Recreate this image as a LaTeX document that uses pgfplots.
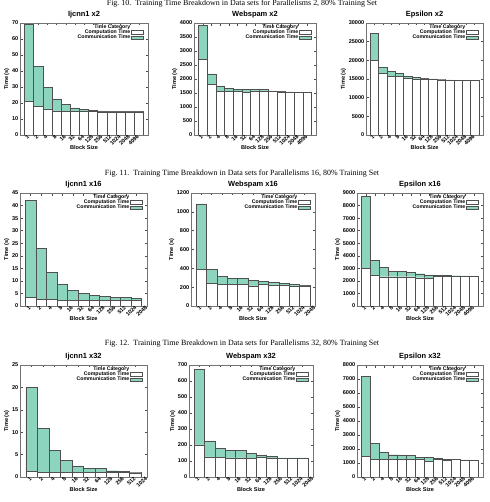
\documentclass[border=0pt]{standalone}
\usepackage{fontspec}
\setmainfont{Liberation Sans}
\newfontfamily\capfont{Liberation Serif}
\usepackage{pgfplots}
\usepackage{pgfplotstable}
\pgfplotsset{compat=1.18}

\definecolor{commcol}{RGB}{141,212,190}
\definecolor{edgecol}{RGB}{80,80,80}

\newcommand\tickfont{\bfseries\fontsize{5.6}{6}\selectfont}
\newcommand\labfont{\bfseries\fontsize{5.6}{6}\selectfont}
\newcommand\legfont{\bfseries\fontsize{5.2}{5.2}\selectfont}
\newcommand\titfont{\bfseries\fontsize{7.5}{8}\selectfont}

% block index, computation time, total time (computation + communication)
\pgfplotstableread{
i comp total
0 21.0 69.5
1 17.8 43.0
2 16.3 29.8
3 15.0 22.5
4 14.6 19.0
5 14.6 17.0
6 14.6 16.0
7 14.6 15.4
8 14.5 15.0
9 14.5 14.8
10 14.5 14.7
11 14.5 14.6
12 14.5 14.6
}\ijA
\pgfplotstableread{
i comp total
0 2690 3930
1 1810 2180
2 1560 1750
3 1550 1660
4 1560 1640
5 1520 1625
6 1580 1625
7 1580 1625
8 1550 1575
9 1540 1565
10 1530 1540
11 1530 1535
12 1530 1530
}\wsA
\pgfplotstableread{
i comp total
0 20000 27300
1 16500 18100
2 15800 17100
3 15800 16500
4 15200 15800
5 15000 15450
6 15000 15200
7 14900 15000
8 14800 14900
9 14700 14750
10 14700 14700
11 14650 14650
12 14600 14650
}\epA
\pgfplotstableread{
i comp total
0 3.3 42.1
1 2.5 23.0
2 2.5 13.5
3 2.3 8.6
4 2.3 6.3
5 2.2 5.1
6 2.2 4.3
7 2.2 3.9
8 2.2 3.5
9 2.2 3.3
10 2.2 3.0
}\ijB
\pgfplotstableread{
i comp total
0 390 1085
1 240 392
2 228 313
3 228 296
4 228 296
5 214 274
6 228 260
7 224 249
8 217 238
9 214 228
10 214 221
}\wsB
\pgfplotstableread{
i comp total
0 3000 8750
1 2420 3660
2 2330 3070
3 2330 2780
4 2330 2760
5 2330 2680
6 2250 2570
7 2220 2480
8 2350 2420
9 2380 2420
10 2380 2410
11 2370 2390
12 2350 2360
}\epB
\pgfplotstableread{
i comp total
0 1.3 20.0
1 1.05 10.8
2 1.05 6.0
3 1.05 3.7
4 1.0 2.5
5 1.0 1.9
6 1.0 1.85
7 1.0 1.4
8 1.0 1.25
9 0.95 1.0
}\ijC
\pgfplotstableread{
i comp total
0 200 673
1 125 226
2 121 178
3 119 165
4 119 165
5 117 146
6 121 138
7 117 127
8 115 120
9 118 120
10 118 119
}\wsC
\pgfplotstableread{
i comp total
0 1500 7200
1 1240 2400
2 1240 1800
3 1240 1590
4 1240 1580
5 1240 1530
6 1240 1410
7 1150 1400
8 1240 1310
9 1200 1250
10 1240 1250
11 1220 1230
12 1200 1210
}\epC

\pgfplotsset{
  legbox/.style={legend image code/.code={%
    \draw[##1] (0bp,-1.6bp) rectangle (12bp,1.6bp);}},
  tbar/.style={
    scale only axis,
    anchor=south west,
    xmin=-1, ymin=0,
    axis line style={black!55, line width=0.5bp},
    tick style={black!70, line width=0.4bp},
    tick align=inside,
    major tick length=2.5bp,
    xtick pos=both, ytick pos=both,
    xticklabel pos=lower, yticklabel pos=left,
    scaled y ticks=false,
    /pgf/number format/assume math mode=true,
    /pgf/number format/1000 sep={},
    yticklabel style={font=\tickfont, inner sep=1.5bp},
    xticklabel style={font=\tickfont, rotate=45, anchor=east, inner sep=1bp},
    ylabel={Time (s)},
    ylabel style={font=\labfont, inner sep=1bp},
    xlabel={Block Size},
    xlabel style={font=\labfont, at={(axis description cs:0.5,0)}, anchor=center, yshift=-12.5bp},
    title style={font=\titfont, at={(axis description cs:0.5,1)}, anchor=base, yshift=0.5bp},
    legend plot pos=right,
    legend cell align=right,
    legend style={draw=none, fill=none, at={(axis description cs:1,1)}, anchor=north east,
      xshift=-4bp, yshift=0bp, font=\legfont, inner sep=0.5bp, row sep=-1.2bp,
      nodes={inner sep=0.6bp}},
  },
  commbar/.style={ybar, bar width=1, bar shift=0pt, fill=commcol, draw=edgecol, line width=0.45bp, forget plot},
  compbar/.style={ybar, bar width=1, bar shift=0pt, fill=white, draw=edgecol, line width=0.45bp, forget plot},
}

\newcommand\legentries{%
  \addlegendimage{empty legend}\addlegendentry{Time Category}
  \addlegendimage{legbox, draw=edgecol, fill=white}\addlegendentry{Computation Time}
  \addlegendimage{legbox, draw=edgecol, fill=commcol}\addlegendentry{Communication Time}
}
\newcommand\bars[1]{%
  \addplot[commbar] table[x=i, y=total]{#1};
  \addplot[compbar] table[x=i, y=comp]{#1};
}
\newcommand\capt[2]{%
  \node[font=\capfont\fontsize{8}{9}\selectfont, anchor=base] at (242bp,#1) {#2};}

\begin{document}
\begin{tikzpicture}
\path[use as bounding box] (0,0) rectangle (490bp,502bp);

% ---- Parallelism 2 ----
\capt{496.5bp}{Fig.~10.\enspace Training Time Breakdown in Data sets for Parallelisms 2, 80\% Training Set}
\begin{axis}[tbar, at={(20bp,367bp)}, width=128bp, height=112bp,
  xmax=13, ymax=70, ytick={0,10,...,70},
  xtick={0,...,12}, xticklabels={1,2,4,8,16,32,64,128,256,512,1024,2048,4096},
  title={Ijcnn1 x2}]
\legentries
\bars{\ijA}
\end{axis}
\begin{axis}[tbar, at={(194bp,367bp)}, width=122bp, height=112bp,
  xmax=13, ymax=4000, ytick={0,500,...,4000},
  xtick={0,...,12}, xticklabels={1,2,4,8,16,32,64,128,256,512,1024,2048,4096},
  title={Webspam x2}]
\legentries
\bars{\wsA}
\end{axis}
\begin{axis}[tbar, at={(366bp,367bp)}, width=117bp, height=112bp,
  xmax=13, ymax=30000, ytick={0,5000,...,30000},
  xtick={0,...,12}, xticklabels={1,2,4,8,16,32,64,128,256,512,1024,2048,4096},
  title={Epsilon x2}]
\legentries
\bars{\epA}
\end{axis}

% ---- Parallelism 16 ----
\capt{326.5bp}{Fig.~11.\enspace Training Time Breakdown in Data sets for Parallelisms 16, 80\% Training Set}
\begin{axis}[tbar, at={(20bp,196bp)}, width=127bp, height=113bp,
  xmax=11, ymax=45, ytick={0,5,...,45},
  xtick={0,...,11}, xticklabels={1,2,4,8,16,32,64,128,256,512,1024,2048},
  title={Ijcnn1 x16}]
\legentries
\bars{\ijB}
\end{axis}
\begin{axis}[tbar, at={(191bp,196bp)}, width=124bp, height=113bp,
  xmax=11, ymax=1200, ytick={0,200,...,1200},
  xtick={0,...,11}, xticklabels={1,2,4,8,16,32,64,128,256,512,1024,2048},
  title={Webspam x16}]
\legentries
\bars{\wsB}
\end{axis}
\begin{axis}[tbar, at={(357bp,196bp)}, width=126bp, height=113bp,
  xmax=13, ymax=9000, ytick={0,1000,...,9000},
  xtick={0,...,12}, xticklabels={1,2,4,8,16,32,64,128,256,512,1024,2048,4096},
  title={Epsilon x16}]
\legentries
\bars{\epB}
\end{axis}

% ---- Parallelism 32 ----
\capt{156.5bp}{Fig.~12.\enspace Training Time Breakdown in Data sets for Parallelisms 32, 80\% Training Set}
\begin{axis}[tbar, at={(20bp,25bp)}, width=127bp, height=112bp,
  xmax=10, ymax=25, ytick={0,5,...,25},
  xtick={0,...,10}, xticklabels={1,2,4,8,16,32,64,128,256,512,1024},
  title={Ijcnn1 x32}]
\legentries
\bars{\ijC}
\end{axis}
\begin{axis}[tbar, at={(189bp,25bp)}, width=124bp, height=112bp,
  xmax=11, ymax=700, ytick={0,100,...,700},
  xtick={0,...,11}, xticklabels={1,2,4,8,16,32,64,128,256,512,1024,2048},
  title={Webspam x32}]
\legentries
\bars{\wsC}
\end{axis}
\begin{axis}[tbar, at={(357bp,25bp)}, width=126bp, height=112bp,
  xmax=13, ymax=8000, ytick={0,1000,...,8000},
  xtick={0,...,12}, xticklabels={1,2,4,8,16,32,64,128,256,512,1024,2048,4096},
  title={Epsilon x32}]
\legentries
\bars{\epC}
\end{axis}
\end{tikzpicture}
\end{document}
